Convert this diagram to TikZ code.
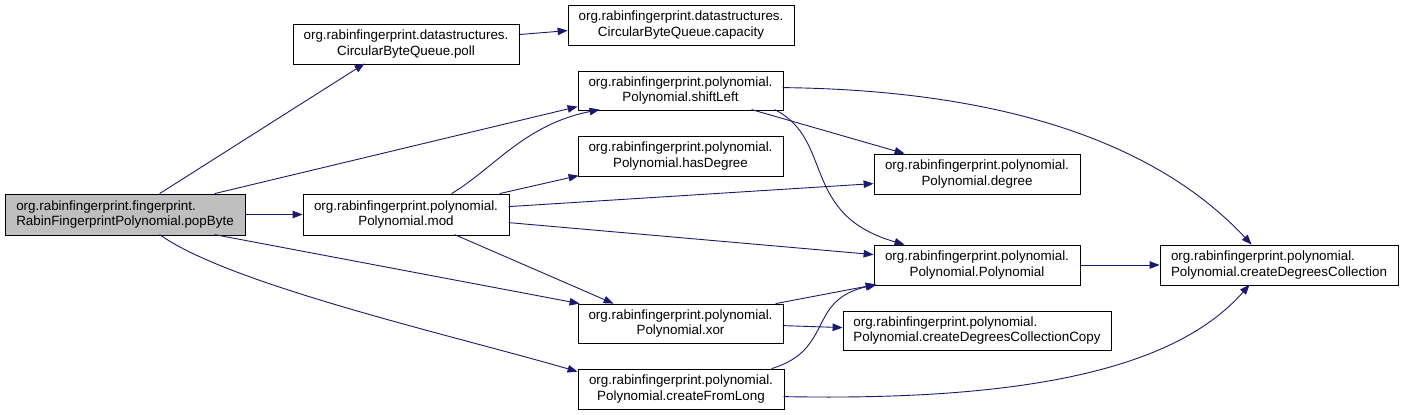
\documentclass[tikz,border=0pt]{standalone}
\usepackage{fontspec}
\setmainfont{Liberation Sans}
\usetikzlibrary{arrows.meta,calc}
\definecolor{edgeblue}{RGB}{25,25,112}
\definecolor{popgray}{RGB}{191,191,191}
\begin{document}
\begin{tikzpicture}[x=1pt,y=-1pt,
  box/.style={draw=black, line width=0.8pt, inner sep=0pt, minimum height=40pt,
    align=center, font=\fontsize{13.4}{15.5}\selectfont},
  lbox/.style={box, align=left},
  arr/.style={draw=edgeblue, line width=0.9pt, -{Triangle[length=10pt,width=7.5pt]}, fill=none},
]
\useasboundingbox (0,0) rectangle (1403,415);

\node[lbox, fill=popgray, minimum width=240pt, minimum height=41pt] (popByte) at (125,214.5)
  {org.rabinfingerprint.fingerprint.\\RabinFingerprintPolynomial.popByte};
\node[box, minimum width=226pt] (poll) at (406,44)
  {org.rabinfingerprint.datastructures.\\CircularByteQueue.poll};
\node[box, minimum width=226pt] (capacity) at (681,25)
  {org.rabinfingerprint.datastructures.\\CircularByteQueue.capacity};
\node[box, minimum width=205pt, minimum height=39pt] (shiftLeft) at (680.5,90.5)
  {org.rabinfingerprint.polynomial.\\Polynomial.shiftLeft};
\node[box, minimum width=205pt] (hasDegree) at (680.5,156)
  {org.rabinfingerprint.polynomial.\\Polynomial.hasDegree};
\node[box, minimum width=205pt, minimum height=39pt] (xor) at (680.5,323.5)
  {org.rabinfingerprint.polynomial.\\Polynomial.xor};
\node[box, minimum width=206pt] (createFromLong) at (681,389)
  {org.rabinfingerprint.polynomial.\\Polynomial.createFromLong};
\node[box, minimum width=206pt, minimum height=41pt] (mod) at (406,214.5)
  {org.rabinfingerprint.polynomial.\\Polynomial.mod};
\node[box, minimum width=206pt] (degree) at (977,174)
  {org.rabinfingerprint.polynomial.\\Polynomial.degree};
\node[box, minimum width=206pt] (Polynomial) at (977,265)
  {org.rabinfingerprint.polynomial.\\Polynomial.Polynomial};
\node[lbox, minimum width=238pt] (cdc) at (1279,265)
  {org.rabinfingerprint.polynomial.\\Polynomial.createDegreesCollection};
\node[lbox, minimum width=268pt, minimum height=39pt] (cdcCopy) at (977,330.5)
  {org.rabinfingerprint.polynomial.\\Polynomial.createDegreesCollectionCopy};

% popByte edges
\draw[arr] ($(popByte.north west)+(155,0)$) -- ($(poll.north west)+(72,40)$);
\draw[arr] ($(popByte.north west)+(210,0)$) -- ($(shiftLeft.north west)+(0,36)$);
\draw[arr] (popByte.east) -- (mod.west);
\draw[arr] ($(popByte.north west)+(210,41)$) -- ($(xor.north west)+(2,0)$);
\draw[arr] ($(popByte.north west)+(155,41)$) .. controls +(70,50) and +(-128,-37) .. ($(createFromLong.north west)+(0,3)$);

% mod edges
\draw[arr] ($(mod.north west)+(149,0)$) .. controls +(43,-26) and +(-75,15) .. ($(shiftLeft.north west)+(22,39)$);
\draw[arr] ($(mod.north west)+(197,0)$) -- ($(hasDegree.north west)+(1,40)$);
\draw[arr] ($(mod.north west)+(206,13)$) -- ($(degree.north west)+(0,30)$);
\draw[arr] ($(mod.north west)+(206,29)$) -- ($(Polynomial.north west)+(0,10)$);
\draw[arr] ($(mod.north west)+(152,41)$) -- ($(xor.north west)+(36,0)$);

% poll
\draw[arr] ($(poll.north west)+(226,11)$) -- ($(capacity.north west)+(0,26)$);

% shiftLeft
\draw[arr] ($(shiftLeft.north west)+(174,39)$) -- ($(degree.north west)+(31,0)$);
\draw[arr] ($(shiftLeft.north west)+(197,39)$) .. controls +(60,30) and +(-105,-30) .. ($(Polynomial.north west)+(31,0)$);
\draw[arr] ($(shiftLeft.north west)+(205,17)$) .. controls +(177,2) and +(-112,-120) .. ($(cdc.north west)+(92,0)$);

% Polynomial
\draw[arr] (Polynomial.east) -- (cdc.west);

% xor
\draw[arr] ($(xor.north west)+(198,0)$) -- ($(Polynomial.north west)+(2,40)$);
\draw[arr] ($(xor.north west)+(205,22)$) -- ($(cdcCopy.north west)+(0,17)$);

% createFromLong
\draw[arr] ($(createFromLong.north west)+(194,0)$) .. controls +(63,-19) and +(-70,15) .. ($(Polynomial.north west)+(3,40)$);
\draw[arr] ($(createFromLong.north west)+(206,28)$) .. controls +(256,5) and +(-70,80) .. ($(cdc.north west)+(90,40)$);
\end{tikzpicture}
\end{document}
